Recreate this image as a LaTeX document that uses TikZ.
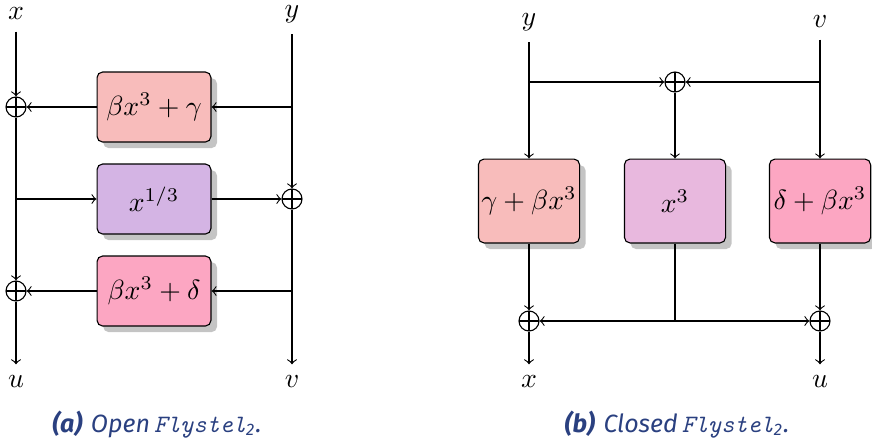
\documentclass[tikz,border=0pt]{standalone}
\usepackage{amsmath}
\usepackage{fontspec}
\usetikzlibrary{arrows.meta, positioning, shadows}
\newfontfamily\captfont{Fira Sans}
\definecolor{Fly_Salmon}{HTML}{F8BCBB}
\definecolor{Fly_Lilac}{HTML}{D4B4E4}
\definecolor{Fly_Pink}{HTML}{FCA6C2}
\definecolor{Fly_Orchid}{HTML}{E8B8DE}
\definecolor{Fly_Shadow}{HTML}{C4C4C4}
\definecolor{Fly_Navy}{HTML}{2A4080}

\begin{document}
\begin{tikzpicture}[
    x=0.36pt, y=-0.36pt,
    lbl/.style={inner sep=4pt, font=\normalsize},
    xorop/.style={circle, draw, minimum size=7.2pt, inner sep=0pt,
        path picture={\draw (path picture bounding box.north) -- (path picture bounding box.south)
            (path picture bounding box.west) -- (path picture bounding box.east);}},
    fbox/.style={draw, rounded corners=2pt, minimum width=41pt, minimum height=25.2pt, inner sep=0pt,
        drop shadow={shadow xshift=2.2pt, shadow yshift=-2.2pt, fill=Fly_Shadow, opacity=1}},
    gbox/.style={fbox, minimum width=36.4pt, minimum height=30.2pt},
    capt/.style={text=Fly_Navy, font=\small},
    >=to
]
\useasboundingbox (0,0) rectangle (872,441);

% (a) Open Flystel
\node[lbl] (xa) at (16,14) {$x$};
\node[lbl] (ya) at (292,14) {$y$};
\node[xorop] (pa1) at (16,107) {};
\node[xorop] (pa2) at (292,199) {};
\node[xorop] (pa3) at (16,291) {};
\node[fbox, fill=Fly_Salmon] (fa1) at (154,107) {$\beta x^3+\gamma$};
\node[fbox, fill=Fly_Lilac] (fa2) at (154,199) {$x^{1/3}$};
\node[fbox, fill=Fly_Pink] (fa3) at (154,291) {$\beta x^3+\delta$};
\node[lbl] (ua) at (16,382) {$u$};
\node[lbl] (va) at (292,382) {$v$};

\draw[->] (xa) -- (pa1);
\draw[->] (pa1) -- (pa3);
\draw[->] (pa3) -- (ua);
\draw[->] (ya) -- (pa2);
\draw[->] (pa2) -- (va);
\draw[->] (pa2 |- fa1) -- (fa1);
\draw[->] (fa1) -- (pa1);
\draw[->] (pa1 |- fa2) -- (fa2);
\draw[->] (fa2) -- (pa2);
\draw[->] (pa2 |- fa3) -- (fa3);
\draw[->] (fa3) -- (pa3);

% (b) Closed Flystel
\node[lbl] (yb) at (529,22) {$y$};
\node[lbl] (vb) at (820,22) {$v$};
\node[xorop] (pb1) at (675,82) {};
\node[gbox, fill=Fly_Salmon] (gb1) at (529,201) {$\gamma+\beta x^3$};
\node[gbox, fill=Fly_Orchid] (gb2) at (675,201) {$x^3$};
\node[gbox, fill=Fly_Pink] (gb3) at (820,201) {$\delta+\beta x^3$};
\node[xorop] (pb2) at (529,321) {};
\node[xorop] (pb3) at (820,321) {};
\coordinate (jb) at (675,321);
\node[lbl] (xb) at (529,382) {$x$};
\node[lbl] (ub) at (820,382) {$u$};

\draw[->] (yb) -- (gb1);
\draw[->] (vb) -- (gb3);
\draw[->] (yb |- pb1) -- (pb1);
\draw[->] (vb |- pb1) -- (pb1);
\draw[->] (pb1) -- (gb2);
\draw (gb2) -- (jb);
\draw[->] (jb) -- (pb2);
\draw[->] (jb) -- (pb3);
\draw[->] (gb1) -- (pb2);
\draw[->] (gb3) -- (pb3);
\draw[->] (pb2) -- (xb);
\draw[->] (pb3) -- (ub);

% captions
\node[capt] (capa) at (157,425) {{\captfont\bfseries\itshape (a)} {\captfont\itshape Open}\,{\ttfamily\itshape Flystel}\textsubscript{\captfont\itshape 2}{\captfont\itshape .}};
\node[capt] (capb) at (677,425) {{\captfont\bfseries\itshape (b)} {\captfont\itshape Closed}\,{\ttfamily\itshape Flystel}\textsubscript{\captfont\itshape 2}{\captfont\itshape .}};

\end{tikzpicture}
\end{document}
